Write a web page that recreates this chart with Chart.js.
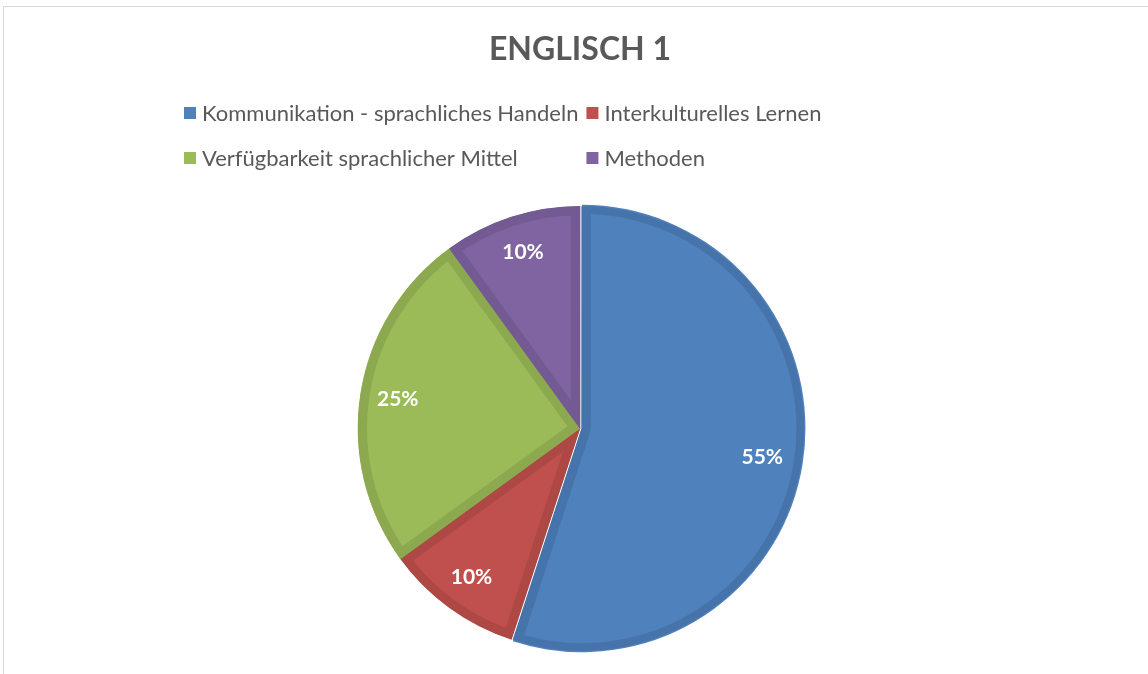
<!DOCTYPE html>
<html>
<head>
<meta charset="utf-8">
<script src="https://cdn.jsdelivr.net/npm/chart.js@4/dist/chart.umd.min.js"></script>
<style>
  html, body { margin: 0; padding: 0; background: #fff; }
  #wrap { width: 1148px; height: 674px; }
</style>
</head>
<body>
<div id="wrap"><canvas id="myChart1" width="1148" height="674"></canvas></div>
<script>
// data
var labels = ["Kommunikation - sprachliches Handeln", "Interkulturelles Lernen", "Verfügbarkeit sprachlicher Mittel", "Methoden"];
var values = [55, 10, 25, 10];
var fillColors = ["#4F81BD", "#C0504D", "#9BBB59", "#8064A2"];
var edgeColors = ["#4573AA", "#AD4845", "#8CA950", "#735A92"];
var offsets = [7, 0, 0, 0];

var FONT = "Lato, 'Open Sans', sans-serif";

// percent labels inside the slices
var pctLabels = {
    id: 'pctLabels',
    afterDatasetsDraw: function(chart) {
        var ctx = chart.ctx;
        var meta = chart.getDatasetMeta(0);
        var total = values.reduce(function(a, b) { return a + b; }, 0);
        ctx.save();
        ctx.fillStyle = '#fff';
        ctx.font = 'bold 21px ' + FONT;
        ctx.textAlign = 'center';
        ctx.textBaseline = 'middle';
        meta.data.forEach(function(arc, i) {
            var p = arc.getProps(['x', 'y', 'startAngle', 'endAngle', 'outerRadius'], true);
            var mid = (p.startAngle + p.endAngle) / 2;
            var r = p.outerRadius * 0.83;
            var x = p.x + Math.cos(mid) * r;
            var y = p.y + Math.sin(mid) * r;
            ctx.fillText(Math.round(values[i] / total * 100) + '%', x, y);
        });
        ctx.restore();
    }
};

// excel style legend, two columns
var gridLegend = {
    id: 'gridLegend',
    afterDraw: function(chart) {
        var ctx = chart.ctx;
        ctx.save();
        ctx.font = '22px ' + FONT;
        ctx.textBaseline = 'middle';
        var x0 = 184, box = 12;
        var colW = Math.max(ctx.measureText(labels[0]).width, ctx.measureText(labels[2]).width);
        var x1 = x0 + box + 6 + colW + 8;
        var rows = [113, 158];
        labels.forEach(function(lab, i) {
            var x = (i % 2 === 0) ? x0 : x1;
            var y = rows[Math.floor(i / 2)];
            ctx.fillStyle = fillColors[i];
            ctx.fillRect(x, y - box / 2, box, box);
            ctx.fillStyle = '#595959';
            ctx.fillText(lab, x + box + 6, y + 1);
        });
        // chart frame
        ctx.strokeStyle = '#d9d9d9';
        ctx.lineWidth = 1;
        ctx.strokeRect(3.5, 6.5, 1150, 680);
        ctx.restore();
    }
};

new Chart(document.getElementById("myChart1").getContext('2d'), {
    type: 'pie',
    data: {
        labels: labels,
        datasets: [{
            data: values,
            backgroundColor: fillColors,
            borderColor: edgeColors,
            borderWidth: 9,
            borderAlign: 'inner',
            offset: offsets
        }]
    },
    options: {
        responsive: false,
        animation: false,
        layout: { padding: { top: 16, left: 12, right: 0, bottom: 20 } },
        plugins: {
            legend: { display: false },
            tooltip: { enabled: false },
            title: {
                display: true,
                text: 'ENGLISCH 1',
                color: '#595959',
                font: { family: FONT, size: 32, weight: 'bold' },
                padding: { top: 14, bottom: 134 }
            }
        }
    },
    plugins: [pctLabels, gridLegend]
});
</script>
</body>
</html>
